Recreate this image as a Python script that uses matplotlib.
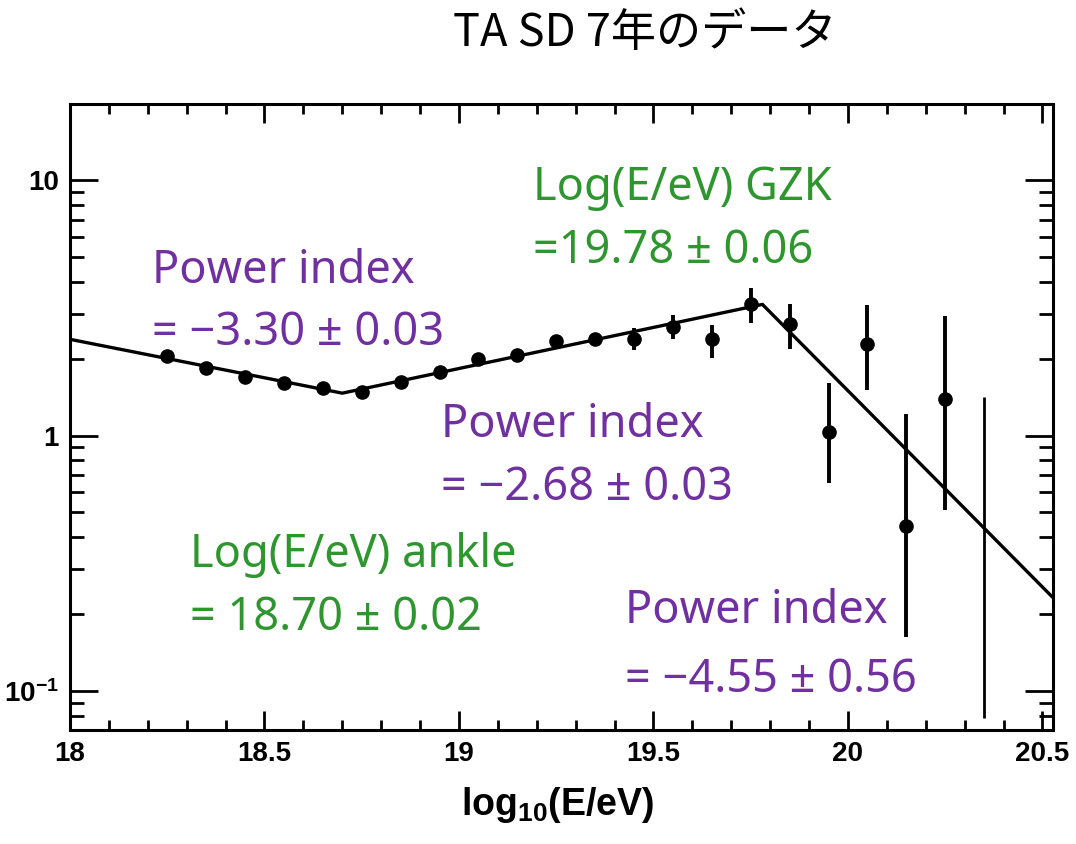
import numpy as np
import matplotlib
matplotlib.use('Agg')
import matplotlib.pyplot as plt
from matplotlib.ticker import FixedLocator, FuncFormatter, MultipleLocator, LogLocator, NullFormatter

plt.rcParams['mathtext.fontset'] = 'custom'
plt.rcParams['mathtext.rm'] = 'Liberation Sans:bold'
plt.rcParams['mathtext.bf'] = 'Liberation Sans:bold'
plt.rcParams['font.family'] = ['Liberation Sans']
plt.rcParams['font.weight'] = 'bold'

# ---- data ----
log_e = [18.25, 18.35, 18.45, 18.55, 18.65, 18.75, 18.85, 18.95, 19.05, 19.15, 19.25,
         19.35, 19.45, 19.55, 19.65, 19.75, 19.85, 19.95, 20.05, 20.15, 20.25, 20.35]
flux = [2.05, 1.84, 1.70, 1.61, 1.54, 1.48, 1.62, 1.78, 1.99, 2.07, 2.35,
        2.38, 2.38, 2.67, 2.38, 3.27, 2.73, 1.03, 2.28, 0.442, 1.39, np.nan]
flux_lo = [2.02, 1.81, 1.67, 1.58, 1.51, 1.45, 1.59, 1.74, 1.94, 2.01, 2.27,
           2.28, 2.16, 2.39, 2.01, 2.76, 2.18, 0.652, 1.51, 0.163, 0.511, 0.0784]
flux_hi = [2.08, 1.87, 1.73, 1.64, 1.57, 1.51, 1.65, 1.82, 2.04, 2.13, 2.43,
           2.49, 2.64, 2.96, 2.71, 3.78, 3.27, 1.61, 3.24, 1.21, 2.94, 1.42]
fit_x = [18.0, 18.70, 19.78, 20.527]
fit_y = [2.38, 1.465, 3.26, 0.232]

x_major = [18, 18.5, 19, 19.5, 20, 20.5]
x_major_labels = ['18', '18.5', '19', '19.5', '20', '20.5']
y_major = [0.1, 1, 10]
y_major_labels = [r'$\mathbf{10^{-1}}$', '1', '10']

title = 'TA SD 7年のデータ'
xlabel = r'$\mathbf{log_{10}(E/eV)}$'

purple = '#7030a0'
green = '#2f962f'
pm = ' \u00b1 '
annotations = [
    ('Power index', 152, 283, purple),
    ('= \u22123.30' + pm + '0.03', 152, 345, purple),
    ('Log(E/eV) GZK', 533, 200, green),
    ('=19.78' + pm + '0.06', 533, 263, green),
    ('Power index', 441, 437, purple),
    ('= \u22122.68' + pm + '0.03', 441, 500, purple),
    ('Log(E/eV) ankle', 190, 567, green),
    ('= 18.70' + pm + '0.02', 190, 630, green),
    ('Power index', 625, 623, purple),
    ('= \u22124.55' + pm + '0.56', 625, 692, purple),
]

W, H = 1076, 844
fig = plt.figure(figsize=(W / 100, H / 100), dpi=100)
fig.patch.set_facecolor('white')
ax = fig.add_axes([70 / W, 1 - 730 / H, (1053 - 70) / W, (730 - 104) / H])

ax.set_yscale('log')
ax.set_xlim(18.0, 20.527)
ax.set_ylim(0.0704, 19.84)

# fit line
ax.plot(fit_x, fit_y, color='black', lw=2.4, zorder=3)
# error bars
lws = [2.8] * (len(log_e) - 1) + [2.0]
ax.vlines(log_e, flux_lo, flux_hi, colors='black', linewidths=lws, zorder=4)
# points
ax.plot(log_e, flux, 'o', color='black', ms=9.5, zorder=5)

# ticks
ax.xaxis.set_major_locator(FixedLocator(x_major))
ax.xaxis.set_major_formatter(FuncFormatter(
    lambda v, p: x_major_labels[x_major.index(round(v, 1))] if round(v, 1) in x_major else ''))
ax.xaxis.set_minor_locator(MultipleLocator(0.1))
ax.yaxis.set_major_locator(FixedLocator(y_major))
ax.yaxis.set_major_formatter(FuncFormatter(
    lambda v, p: y_major_labels[p] if p is not None and p < len(y_major_labels) else ''))
ax.yaxis.set_minor_locator(LogLocator(base=10, subs=np.arange(2, 10)))
ax.yaxis.set_minor_formatter(NullFormatter())

ax.tick_params(axis='both', which='both', direction='in', top=True, right=True,
               width=2, colors='black', labelsize=20)
ax.tick_params(axis='x', which='major', length=13.5, pad=8)
ax.tick_params(axis='x', which='minor', length=7)
ax.tick_params(axis='y', which='major', length=20, pad=8)
ax.tick_params(axis='y', which='minor', length=10)
for s in ax.spines.values():
    s.set_linewidth(2.2)

ax.set_xlabel(xlabel, fontsize=27)
ax.xaxis.set_label_coords((558 - 70) / 983, -(785 - 730) / 626)
ax.xaxis.label.set_va('top')

fig.text(645 / W, 1 - 33 / H, title, ha='center', va='center', fontsize=32.5,
         fontweight='normal', family=['Noto Sans CJK JP', 'DejaVu Sans'])

for txt, x, y, c in annotations:
    fig.text(x / W, 1 - y / H, txt, ha='left', va='baseline', fontsize=32.5,
             fontweight='normal', color=c, family=['Noto Sans', 'DejaVu Sans'], zorder=10)

fig.savefig('out.png', dpi=100)
